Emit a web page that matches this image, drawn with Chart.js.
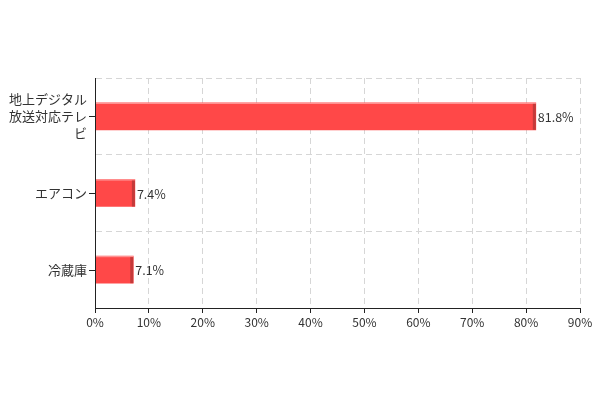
<!DOCTYPE html>
<html>
<head>
<meta charset="utf-8">
<script src="https://cdn.jsdelivr.net/npm/chart.js@4.4.0/dist/chart.umd.min.js"></script>
<style>
  html, body { margin: 0; padding: 0; background: #fff; }
  #wrap { width: 598px; height: 398px; }
</style>
</head>
<body>
<div id="wrap"><canvas id="chart" width="598" height="398"></canvas></div>
<script>
// chart data
const categories = [["地上デジタル", "放送対応テレ", "ビ"], "エアコン", "冷蔵庫"];
const shares = [81.8, 7.4, 7.1];
const xTicks = [0, 10, 20, 30, 40, 50, 60, 70, 80, 90];

const FONT = "'Noto Sans CJK JP', 'Noto Sans', sans-serif";

// draws the darker side of each bar, the value labels and the y tick marks
const barDecor = {
  id: 'barDecor',
  afterDatasetsDraw(chart) {
    const ctx = chart.ctx;
    const meta = chart.getDatasetMeta(0);
    ctx.save();
    meta.data.forEach((bar, i) => {
      const top = bar.y - bar.height / 2;
      const h = bar.height;
      // light top edge
      ctx.fillStyle = 'rgba(255,170,170,0.9)';
      ctx.fillRect(bar.base, top, bar.x - bar.base, 1);
      // dark right side
      ctx.fillStyle = '#c43a3a';
      ctx.fillRect(bar.x - 3, top + 1, 3, h - 1);
      // label
      ctx.fillStyle = '#333';
      ctx.font = '12.5px ' + FONT;
      ctx.textAlign = 'left';
      ctx.textBaseline = 'middle';
      ctx.fillText(shares[i].toFixed(1) + '%', bar.x + 2, bar.y + 1);
    });
    // tick marks at category centres
    const y = chart.scales.y;
    ctx.strokeStyle = '#222';
    ctx.lineWidth = 1;
    categories.forEach((c, i) => {
      const py = Math.round(y.getPixelForValue(i)) + 0.5;
      ctx.beginPath();
      ctx.moveTo(y.right - 6, py);
      ctx.lineTo(y.right, py);
      ctx.stroke();
    });
    // solid axis lines on top of the dashed grid
    const x = chart.scales.x;
    ctx.beginPath();
    ctx.moveTo(y.right + 0.5, chart.chartArea.top);
    ctx.lineTo(y.right + 0.5, chart.chartArea.bottom);
    ctx.moveTo(chart.chartArea.left, x.top + 0.5);
    ctx.lineTo(chart.chartArea.right, x.top + 0.5);
    ctx.stroke();
    ctx.restore();
  }
};

new Chart(document.getElementById('chart').getContext('2d'), {
  type: 'bar',
  data: {
    labels: categories,
    datasets: [{
      data: shares,
      backgroundColor: '#ff4848',
      borderWidth: 0,
      barThickness: 27
    }]
  },
  options: {
    indexAxis: 'y',
    responsive: false,
    animation: false,
    layout: { padding: { top: 78, right: 18, bottom: 60, left: 0 } },
    plugins: {
      legend: { display: false },
      tooltip: { enabled: false }
    },
    scales: {
      x: {
        min: 0,
        max: 90,
        afterBuildTicks: scale => { scale.ticks = xTicks.map(v => ({ value: v })); },
        afterFit: scale => { scale.height = 30; },
        border: { display: true, color: '#222', width: 1, dash: [6, 4] },
        grid: {
          color: '#d6d6d6',
          tickColor: '#222',
          tickBorderDash: [],
          tickLength: 5
        },
        ticks: {
          color: '#333',
          font: { family: FONT, size: 12 },
          padding: 2,
          callback: v => v + '%'
        }
      },
      y: {
        afterFit: scale => { scale.width = 95; },
        border: { display: true, color: '#222', width: 1, dash: [6, 4] },
        grid: {
          offset: true,
          color: '#d6d6d6',
          drawTicks: false
        },
        ticks: {
          color: '#333',
          font: { family: FONT, size: 13, lineHeight: 1.3 },
          padding: 8
        }
      }
    }
  },
  plugins: [barDecor]
});
</script>
</body>
</html>
